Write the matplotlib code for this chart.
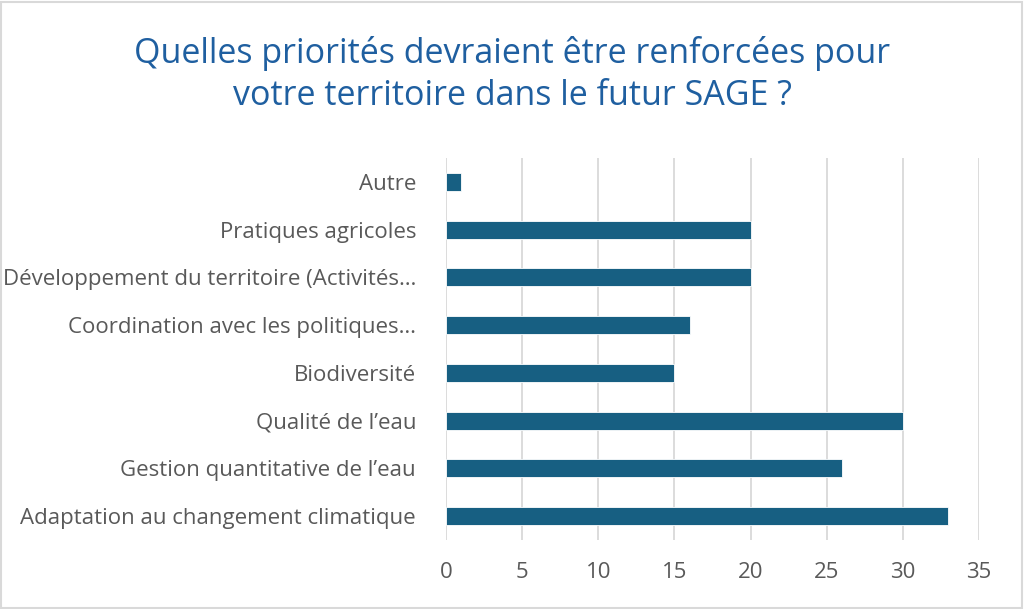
import matplotlib.pyplot as plt
from matplotlib.patches import Rectangle

plt.rcParams['font.family'] = ['Open Sans', 'DejaVu Sans']

categories = [
    'Adaptation au changement climatique',
    'Gestion quantitative de l\u2019eau',
    'Qualit\u00e9 de l\u2019eau',
    'Biodiversit\u00e9',
    'Coordination avec les politiques\u2026',
    'D\u00e9veloppement du territoire (Activit\u00e9s\u2026',
    'Pratiques agricoles',
    'Autre',
]
values = [33, 26, 30, 15, 16, 20, 20, 1]
xticks = [0, 5, 10, 15, 20, 25, 30, 35]

title = 'Quelles priorit\u00e9s devraient \u00eatre renforc\u00e9es pour\nvotre territoire dans le futur SAGE ?'

bar_color = '#175F82'
text_color = '#595959'
grid_color = '#D9D9D9'

fig = plt.figure(figsize=(10.24, 6.09), dpi=100)
ax = fig.add_axes([0.4355, 0.1133, 0.5205, 0.6273])

ax.barh(range(len(categories)), values, height=0.38, color=bar_color,
        edgecolor='white', linewidth=0.6, zorder=3)

ax.set_ylim(-0.5, len(categories) - 0.5)
ax.set_xlim(0, 35)
ax.set_xticks(xticks)
ax.set_yticks(range(len(categories)))
ax.set_yticklabels(categories)
ax.grid(axis='x', color=grid_color, linewidth=1.3, zorder=0)
ax.tick_params(axis='both', length=0, labelsize=16, labelcolor=text_color)
ax.tick_params(axis='x', pad=16)
ax.tick_params(axis='y', pad=21.5)
for s in ax.spines.values():
    s.set_visible(False)

fig.text(0.5, 0.878, title, ha='center', va='center', fontsize=24.5,
         color='#1F5FA0', linespacing=1.3)

# border around the whole chart
fig.patches.append(Rectangle((0.001, 0.002), 0.997, 0.995, transform=fig.transFigure,
                             fill=False, edgecolor='#D9D9D9', linewidth=1.5))

fig.savefig('out.png', dpi=100)
